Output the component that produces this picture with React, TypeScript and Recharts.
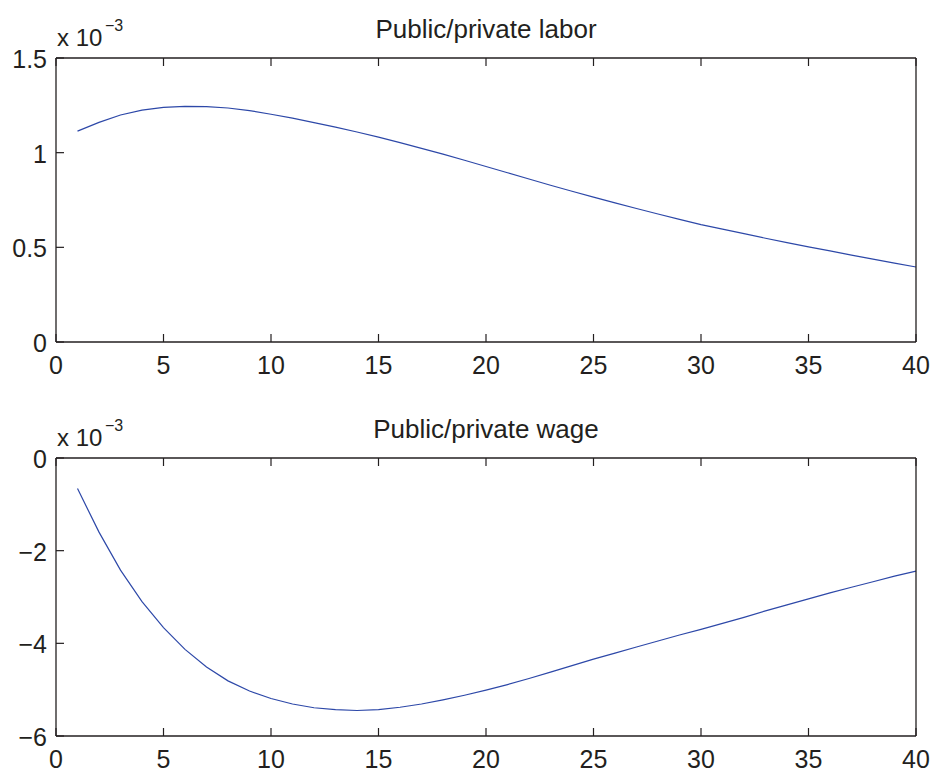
import React from 'react';
import { LineChart, Line, XAxis, YAxis } from 'recharts';

// horizon (periods after the shock)
const periods = [
  1, 2, 3, 4, 5, 6, 7, 8, 9, 10, 11, 12, 13, 14, 15, 16, 17, 18, 19, 20,
  21, 22, 23, 24, 25, 26, 27, 28, 29, 30, 31, 32, 33, 34, 35, 36, 37, 38, 39, 40,
];

// Public/private labor, in units of 1e-3
const laborValues = [
  1.114, 1.160, 1.199, 1.225, 1.239, 1.245, 1.243, 1.236, 1.222, 1.203,
  1.182, 1.159, 1.135, 1.109, 1.082, 1.053, 1.023, 0.992, 0.960, 0.927,
  0.894, 0.861, 0.828, 0.796, 0.765, 0.735, 0.705, 0.676, 0.648, 0.620,
  0.596, 0.572, 0.548, 0.525, 0.502, 0.481, 0.459, 0.438, 0.417, 0.396,
];

// Public/private wage, in units of 1e-3
const wageValues = [
  -0.66, -1.6, -2.42, -3.1, -3.66, -4.13, -4.51, -4.81, -5.03, -5.19,
  -5.31, -5.39, -5.43, -5.45, -5.43, -5.38, -5.31, -5.22, -5.12, -5.01,
  -4.89, -4.76, -4.62, -4.48, -4.34, -4.21, -4.08, -3.95, -3.82, -3.7,
  -3.57, -3.44, -3.3, -3.17, -3.04, -2.91, -2.79, -2.67, -2.55, -2.44,
];

const xTicks = [0, 5, 10, 15, 20, 25, 30, 35, 40];
const laborTicks = [0, 0.5, 1, 1.5];
const wageTicks = [-6, -4, -2, 0];

const INK = '#231f20';
const BLUE = '#2d48a8';
const FONT = '"Liberation Sans", Arial, Helvetica, sans-serif';
const TICK_LEN = 8;

const fmt = (v: number) => String(v).replace('-', '\u2212');

const BottomTick = (props: any) => {
  const { x, y, payload } = props;
  return (
    <g>
      <line x1={x} y1={y} x2={x} y2={y - TICK_LEN} stroke={INK} strokeWidth={1.2} />
      <text x={x} y={y + 32} textAnchor="middle" fontSize={25} fontFamily={FONT} fill={INK}>
        {fmt(payload.value)}
      </text>
    </g>
  );
};

const TopTick = (props: any) => {
  const { x, y } = props;
  return <line x1={x} y1={y} x2={x} y2={y + TICK_LEN} stroke={INK} strokeWidth={1.2} />;
};

const LeftTick = (props: any) => {
  const { x, y, payload } = props;
  return (
    <g>
      <line x1={x} y1={y} x2={x + TICK_LEN} y2={y} stroke={INK} strokeWidth={1.2} />
      <text x={x - 9} y={y + 10} textAnchor="end" fontSize={25} fontFamily={FONT} fill={INK}>
        {fmt(payload.value)}
      </text>
    </g>
  );
};

const RightTick = (props: any) => {
  const { x, y } = props;
  return <line x1={x} y1={y} x2={x - TICK_LEN} y2={y} stroke={INK} strokeWidth={1.2} />;
};

function Panel({ values, yDomain, yTicks, height, bottomAxisHeight, marginBottom }: any) {
  const data = periods.map((t, i) => ({ t, v: values[i] }));
  const axisLine = { stroke: INK, strokeWidth: 1.3 };
  return (
    <LineChart
      width={934}
      height={height}
      data={data}
      margin={{ top: 48, right: 0, left: 0, bottom: marginBottom }}
    >
      <XAxis
        dataKey="t"
        type="number"
        domain={[0, 40]}
        ticks={xTicks}
        interval={0}
        height={bottomAxisHeight}
        tickSize={0}
        tickMargin={0}
        tickLine={false}
        axisLine={axisLine}
        tick={BottomTick}
      />
      <XAxis
        xAxisId="top"
        orientation="top"
        dataKey="t"
        type="number"
        domain={[0, 40]}
        ticks={xTicks}
        interval={0}
        height={10}
        tickSize={0}
        tickMargin={0}
        tickLine={false}
        axisLine={axisLine}
        tick={TopTick}
      />
      <YAxis
        type="number"
        domain={yDomain}
        ticks={yTicks}
        interval={0}
        width={56}
        tickSize={0}
        tickMargin={0}
        tickLine={false}
        axisLine={axisLine}
        tick={LeftTick}
      />
      <YAxis
        yAxisId="right"
        orientation="right"
        type="number"
        domain={yDomain}
        ticks={yTicks}
        interval={0}
        width={18}
        tickSize={0}
        tickMargin={0}
        tickLine={false}
        axisLine={axisLine}
        tick={RightTick}
      />
      <Line
        type="linear"
        dataKey="v"
        stroke={BLUE}
        strokeWidth={1.2}
        dot={false}
        isAnimationActive={false}
      />
    </LineChart>
  );
}

function Heading({ title, plotTop }: { title: string; plotTop: number }) {
  return (
    <g fontFamily={FONT} fill={INK}>
      <text x={486} y={plotTop - 20} textAnchor="middle" fontSize={26}>
        {title}
      </text>
      <text x={57} y={plotTop - 12} fontSize={24}>
        x 10
      </text>
      <text x={105} y={plotTop - 27} fontSize={16}>
        {'\u22123'}
      </text>
    </g>
  );
}

export default function App() {
  return (
    <div style={{ position: 'absolute', left: 0, top: 0, width: 934, height: 774, background: '#fff' }}>
      <div style={{ position: 'absolute', left: 0, top: 0 }}>
        <Panel values={laborValues} yDomain={[0, 1.5]} yTicks={laborTicks} height={400} bottomAxisHeight={50} marginBottom={8} />
      </div>
      <div style={{ position: 'absolute', left: 0, top: 400 }}>
        <Panel values={wageValues} yDomain={[-6, 0]} yTicks={wageTicks} height={374} bottomAxisHeight={36} marginBottom={2} />
      </div>
      <svg width={934} height={774} style={{ position: 'absolute', left: 0, top: 0, pointerEvents: 'none' }}>
        <Heading title="Public/private labor" plotTop={58} />
        <Heading title="Public/private wage" plotTop={458} />
      </svg>
    </div>
  );
}
